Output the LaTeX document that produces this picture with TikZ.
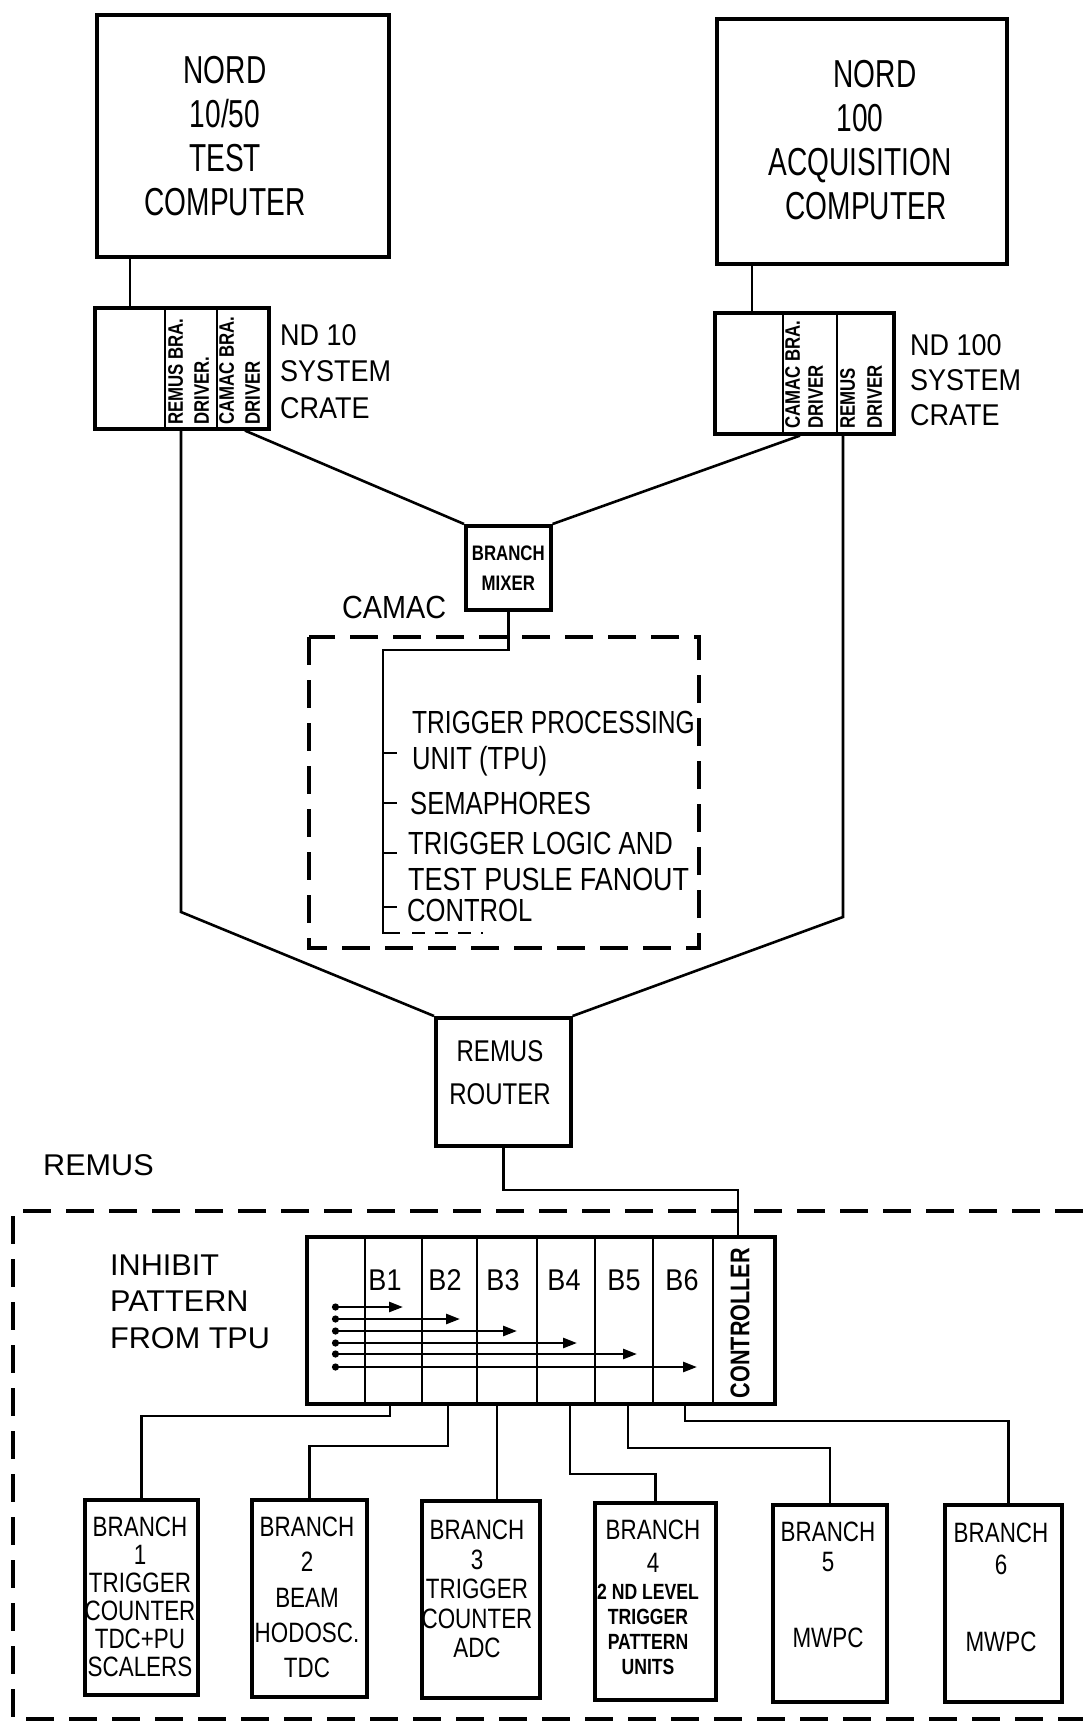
\documentclass[tikz,border=0pt]{standalone}
\usepackage{fontspec}
\usepackage{graphicx}
\setmainfont{Liberation Sans}[FakeStretch=0.8]
\newfontfamily\nf{Liberation Sans}[FakeStretch=0.72]
\newfontfamily\mf{Liberation Sans}[FakeStretch=0.9]
\newfontfamily\wf{Liberation Sans}[FakeStretch=1.02]
\usetikzlibrary{arrows.meta,calc}
\newcommand\myfs[2]{\fontsize{#1pt}{#2pt}\selectfont}
\begin{document}
\begin{tikzpicture}[x=1pt,y=-1pt,
  box/.style={draw, line width=3.6pt, inner sep=0pt, anchor=north west},
  wire/.style={line width=2.6pt},
  divd/.style={line width=2.2pt},
  dsh/.style={line width=3.4pt, dash pattern=on 28pt off 15pt},
  txt/.style={inner sep=0pt},
  rot/.style={rotate=90, anchor=north west, align=left, inner sep=0pt},
  inhib/.style={line width=2.6pt, {Circle[length=7pt]}-{Triangle[length=14pt,width=10pt]}}
]
\fill[white] (0,0) rectangle (1083,1728);
\useasboundingbox (0,0) rectangle (1083,1728);

% computers
\node[box, minimum width=292pt, minimum height=242pt] (n1050) at (95,13) {};
\node[box, minimum width=290pt, minimum height=245pt] (n100) at (715,17) {};
\node[txt, align=center, font=\nf\myfs{39}{44}] (t1050) at (225,136) {NORD\\10/50\\TEST\\COMPUTER};
\node[txt, align=center, font=\nf\myfs{39}{44}] (t100) at (860,140.5) {\hspace*{30pt}NORD\\100\\ACQUISITION\hspace*{22pt}\\\hspace*{12pt}COMPUTER};

% system crates
\node[box, minimum width=174pt, minimum height=121pt] (c10) at (93,306) {};
\node[box, minimum width=179pt, minimum height=121pt] (c100) at (713,311) {};
\draw[divd] (165,306) -- (165,427);
\draw[divd] (217,306) -- (217,427);
\draw[divd] (783,311) -- (783,432);
\draw[divd] (837,311) -- (837,432);
\node[rot, font=\bfseries\myfs{21}{26}] (r10a) at (168,425) {REMUS BRA.\\DRIVER.};
\node[rot, font=\bfseries\myfs{21}{26}] (r10b) at (219,425) {CAMAC BRA.\\DRIVER};
\node[rot, font=\bfseries\myfs{21}{23}] (r100a) at (785,429) {CAMAC BRA.\\DRIVER};
\node[rot, font=\bfseries\myfs{21}{27}] (r100b) at (840,429) {REMUS\\DRIVER};
\node[txt, align=left, anchor=west, font=\mf\myfs{30}{36.5}] (nd10) at (280,371.5) {ND 10\\SYSTEM\\CRATE};
\node[txt, align=left, anchor=west, font=\mf\myfs{30}{35}] (nd100) at (910,380) {ND 100\\SYSTEM\\CRATE};

\coordinate (p1) at (130,0);
\coordinate (p2) at (752,0);
\draw[wire] (p1 |- n1050.south) -- (p1 |- c10.north);
\draw[wire] (p2 |- n100.south) -- (p2 |- c100.north);

% branch mixer
\node[box, minimum width=85pt, minimum height=84pt, align=center, font=\bfseries\myfs{21}{30}] (mix) at (464,524) {BRANCH\\MIXER};
\coordinate (q1) at (245,0);
\coordinate (q2) at (800,0);
\draw[wire] (q1 |- c10.south) -- (mix.north west);
\draw[wire] (q2 |- c100.south) -- (mix.north east);

% CAMAC area
\node[txt, anchor=west, font=\mf\myfs{32}{36}] (camac) at (342,607) {CAMAC};
\draw[dsh] (309,637) rectangle (699,948);
\coordinate (bus) at (383,650);
\coordinate (busend) at (383,933);
\draw[wire] (mix.south) -- (mix.south |- bus) -- (bus) -- (busend) -- ++(17,0);
\draw[line width=2.6pt, dash pattern=on 13pt off 10pt] (412,933) -- (483,933);
\foreach \y in {753,803,853,907} \draw[wire] (383,\y) -- (397,\y);
\node[txt, align=left, anchor=west, font=\myfs{32}{36}] (tpu1) at (412,743.5) {\scalebox{0.96}[1]{TRIGGER PROCESSING}\\UNIT (TPU)};
\node[txt, anchor=west, font=\myfs{32}{36}] (tpu2) at (410,803) {SEMAPHORES};
\node[txt, align=left, anchor=west, font=\myfs{32}{36}] (tpu3) at (408,861.5) {TRIGGER LOGIC AND\\\scalebox{1.05}[1]{TEST PUSLE FANOUT}};
\node[txt, anchor=west, font=\myfs{32}{36}] (tpu4) at (407,910) {CONTROL};

% REMUS router
\node[box, minimum width=135pt, minimum height=128pt] (router) at (434,1016) {};
\node[txt, align=center, font=\myfs{30}{43}] (trouter) at (500,1072.5) {REMUS\\ROUTER};
\coordinate (k1) at (181,912);
\coordinate (k2) at (843,917);
\draw[wire] (k1 |- c10.south) -- (k1) -- (router.north west);
\draw[wire] (k2 |- c100.south) -- (k2) -- (router.north east);

% REMUS area
\node[txt, anchor=west, font=\wf\myfs{30}{36}] (remus) at (43,1165) {REMUS};
\draw[dsh] (1083,1211) -- (13,1211) -- (13,1719) -- (1083,1719);
\node[txt, align=left, anchor=west, font=\wf\myfs{30}{36.5}] (inh) at (110,1301.5) {INHIBIT\\PATTERN\\FROM TPU};

% branch crate
\node[box, minimum width=468pt, minimum height=167pt] (bcrate) at (305,1235) {};
\foreach \x in {365,422,477,537,595,653,713} \draw[divd] (\x,1235) -- (\x,1402);
\foreach \n/\x in {1/385,2/445,3/503,4/564,5/624,6/682}
  \node[txt, font=\mf\myfs{30}{36}] (b\n) at (\x,1280) {B\n};
\node[txt, rotate=90, font=\bfseries\myfs{27}{30}] (ctrl) at (740,1323) {CONTROLLER};
\foreach \y/\e in {1307/403,1319/460,1331/517,1343/577,1354/637,1367/697}
  \draw[inhib] (332,\y) -- (\e,\y);

\coordinate (rc) at (738,1190);
\draw[wire] (router.south) -- (router.south |- rc) -- (rc) -- (rc |- bcrate.north);

% branches
\node[box, minimum width=113pt, minimum height=195pt] (br1) at (83,1498) {};
\node[box, minimum width=115pt, minimum height=197pt] (br2) at (250,1498) {};
\node[box, minimum width=118pt, minimum height=197pt] (br3) at (420,1499) {};
\node[box, minimum width=121pt, minimum height=197pt] (br4) at (593,1501) {};
\node[box, minimum width=114pt, minimum height=197pt] (br5) at (771,1503) {};
\node[box, minimum width=117pt, minimum height=197pt] (br6) at (943,1503) {};

\node[txt, align=center, font=\myfs{28}{28}] (tb1) at (140,1597) {BRANCH\\1\\TRIGGER\\COUNTER\\TDC+PU\\SCALERS};
\node[txt, align=center, font=\myfs{28}{35.25}] (tb2) at (307,1597.5) {BRANCH\\2\\BEAM\\HODOSC.\\TDC};
\node[txt, align=center, font=\myfs{28}{29.5}] (tb3) at (477,1589) {BRANCH\\3\\TRIGGER\\COUNTER\\ADC};
\node[txt, align=center, font=\myfs{28}{33}] (tb4a) at (653,1546.5) {BRANCH\\4};
\node[txt, align=center, font=\bfseries\myfs{22}{25}] (tb4b) at (648,1629.5) {2 ND LEVEL\\TRIGGER\\PATTERN\\UNITS};
\node[txt, align=center, font=\myfs{28}{30}] (tb5) at (828,1585) {BRANCH\\5\\[46pt]MWPC};
\node[txt, align=center, font=\myfs{28}{32}] (tb6) at (1001,1587.5) {BRANCH\\6\\[45pt]MWPC};

\coordinate (s1) at (390,1416);
\coordinate (s2) at (448,1446);
\coordinate (s3) at (497,0);
\coordinate (s4) at (570,1474);
\coordinate (s5) at (628,1448);
\coordinate (s6) at (685,1421);
\draw[wire] (s1 |- bcrate.south) -- (s1) -| (br1.north);
\draw[wire] (s2 |- bcrate.south) -- (s2) -| (br2.north);
\draw[wire] (s3 |- bcrate.south) -- (s3 |- br3.north);
\draw[wire] (s4 |- bcrate.south) -- (s4) -| (br4.north);
\draw[wire] (s5 |- bcrate.south) -- (s5) -| (br5.north);
\draw[wire] (s6 |- bcrate.south) -- (s6) -| ($(br6.north)+(5,0)$);
\end{tikzpicture}
\end{document}
